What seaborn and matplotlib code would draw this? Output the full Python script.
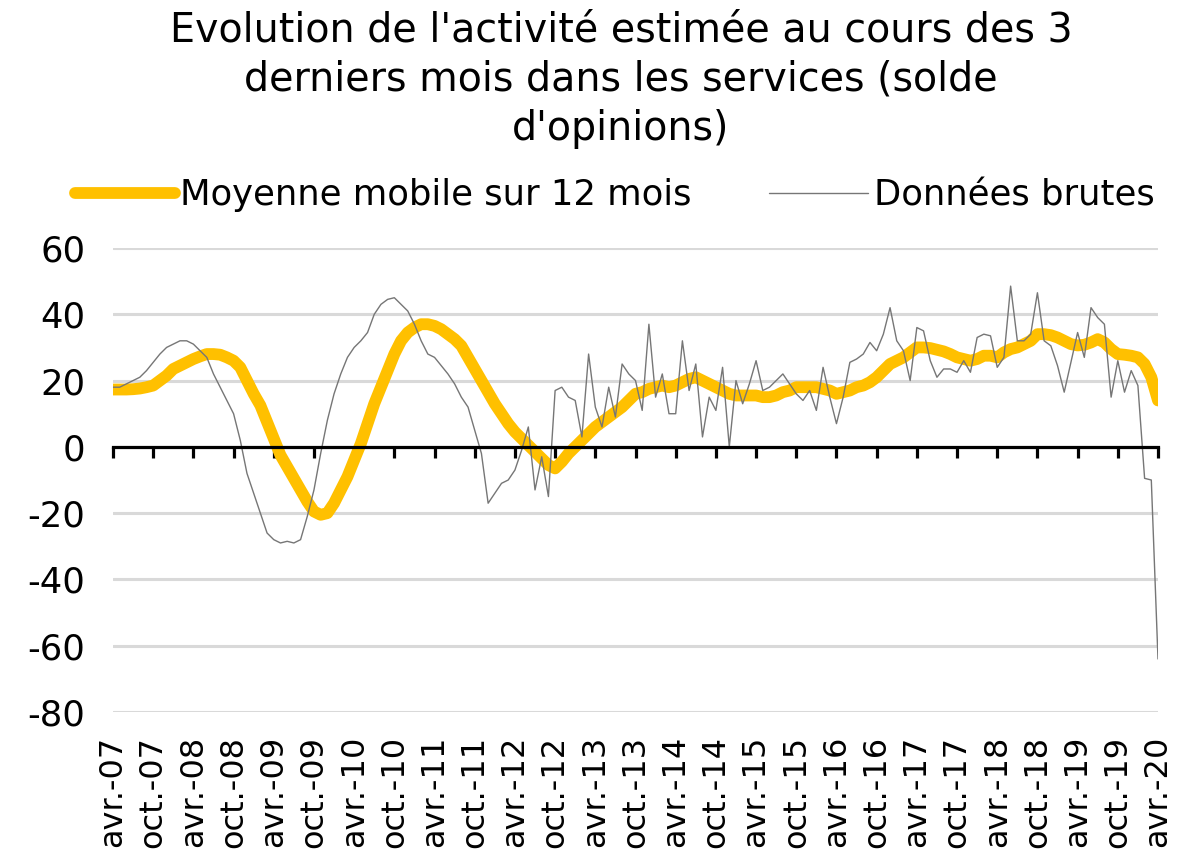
########## Import #########
import matplotlib
matplotlib.use("Agg")
import matplotlib.pyplot as plt
import seaborn as sns
import pandas as pd

############## Data ###########

# x tick labels, one every 6 months (avr. 2007 -> avr. 2020)
tick_labels = ["avr.-07", "oct.-07", "avr.-08", "oct.-08", "avr.-09", "oct.-09",
               "avr.-10", "oct.-10", "avr.-11", "oct.-11", "avr.-12", "oct.-12",
               "avr.-13", "oct.-13", "avr.-14", "oct.-14", "avr.-15", "oct.-15",
               "avr.-16", "oct.-16", "avr.-17", "oct.-17", "avr.-18", "oct.-18",
               "avr.-19", "oct.-19", "avr.-20"]

# Raw balance of opinions, monthly from avr. 2007
donnees_brutes = [
    18, 18, 19, 20, 21, 23, 25.5, 28, 30, 31, 32, 32,
    31, 29, 27, 22, 18, 14, 10, 2, -8, -14, -20, -26,
    -28, -29, -28.5, -29, -28, -21, -13, -2, 8, 16, 22, 27,
    30, 32, 34.5, 40, 43, 44.5, 45, 43, 41, 37, 32, 28,
    27, 24.5, 22, 19, 15, 12, 5, -2, -17, -14, -11, -10,
    -7, -1, 6, -13, -3, -15, 17, 18, 15, 14, 3, 28,
    12, 6, 18, 9, 25, 22, 20, 11, 37, 15, 22, 10,
    10, 32, 17, 25, 3, 15, 11, 24, 0, 20, 13, 19,
    26, 17, 18, 20, 22, 19, 16, 14, 17, 11, 24, 15,
    7, 15, 25.5, 26.5, 28, 31.5, 29, 34, 42, 32, 29, 20,
    36, 35, 26, 21, 23.5, 23.5, 22.5, 26, 22.5, 33, 34, 33.5,
    24, 27, 48.5, 32, 32, 34, 46.5, 32, 30.5, 24.5, 16.5, 25.5,
    34.5, 27, 42, 39, 37, 15, 26, 16.5, 23, 18.5, -9.5, -10,
    -64,
]

# 12-month moving average
moyenne_mobile = [
    17.3, 17.3, 17.3, 17.4, 17.6, 18, 18.5, 20, 21.5, 23.5, 24.5, 25.5,
    26.5, 27.3, 28, 28, 27.8, 27, 26, 24, 20, 16, 12.5, 7.5,
    2.5, -2.5, -6, -9.5, -13, -16.5, -19.5, -20.5, -20, -17, -13, -9,
    -4, 1, 7, 13, 18, 23, 28, 32, 34.5, 36, 37, 37,
    36.5, 35.5, 34, 32.5, 30.5, 27, 23.5, 20, 16.5, 13, 10, 7,
    4.5, 2.5, 0.5, -1.5, -3.5, -5.5, -6.5, -4.5, -2, 0, 2, 4,
    6, 7.5, 9, 10.5, 12, 14, 16, 16.5, 17.5, 18, 18.5, 18,
    18.5, 19.5, 20.5, 21, 20, 19, 18, 17, 16, 15.5, 15.5, 15.5,
    15.5, 15, 15, 15.5, 16.5, 17, 18, 18, 18, 18, 17.5, 17,
    16, 16.5, 17, 18, 18.5, 19.5, 21, 23, 25, 26, 27, 28.5,
    30, 30, 29.8, 29.3, 28.8, 28, 27, 26.5, 26, 26.5, 27.5, 27.5,
    27, 28.5, 29.5, 30, 31, 32, 34, 34, 33.7, 33, 32, 31,
    30.6, 30.8, 31.5, 32.5, 31.5, 29.5, 28, 27.8, 27.5, 27, 25, 21,
    14,
]

frame = pd.DataFrame({"mois": range(len(donnees_brutes)),
                      "brutes": donnees_brutes,
                      "mm12": moyenne_mobile})

########### Plot #########

sns.set_theme(style="white")
plt.rcParams["font.family"] = ["DejaVu Sans"]
plt.rcParams["axes.unicode_minus"] = False
plt.rcParams["text.color"] = "black"
ytick_size = 25.5
xtick_size = 23
legend_size = 25.5
title_size = 28.5

W, H = 1196, 864
fig = plt.figure(figsize=(W / 100, H / 100), dpi=100)
ax = fig.add_axes([113 / W, 1 - 712 / H, (1158 - 113) / W, (712 - 248) / H])

sns.lineplot(data=frame, x="mois", y="mm12", color="#FFC000", linewidth=8.5,
             ax=ax, label="Moyenne mobile sur 12 mois", zorder=3)
sns.lineplot(data=frame, x="mois", y="brutes", color="#767676", linewidth=1.0,
             ax=ax, label="Données brutes", zorder=4)

# y axis
ax.set_ylim(-80, 60)
ax.set_yticks(range(-80, 61, 20))
ax.yaxis.grid(True, color="#d9d9d9", linewidth=2.2)
ax.set_axisbelow(True)
ax.tick_params(axis="y", length=0, pad=20, labelsize=ytick_size, colors="black")
ax.set_ylabel("")

# x axis drawn on 0, labels at the bottom
ax.set_xlim(0, len(donnees_brutes) - 1)
for side in ["left", "right", "top"]:
    ax.spines[side].set_visible(False)
ax.spines["bottom"].set_position(("data", 0))
ax.spines["bottom"].set_linewidth(2.3)
ax.spines["bottom"].set_color("black")
ax.spines["bottom"].set_zorder(5)
tick_pos = list(range(0, len(donnees_brutes), 6))
ax.set_xticks(tick_pos)
ax.tick_params(axis="x", direction="out", length=8, width=2.3, color="black",
               bottom=True, labelbottom=False)
ax.set_xlabel("")

sec = ax.secondary_xaxis("bottom")
sec.set_xticks(tick_pos, labels=tick_labels)
sec.tick_params(axis="x", length=0, pad=17, labelsize=xtick_size,
                labelrotation=90, labelcolor="black")
sec.spines["bottom"].set_visible(False)

# legend
leg = ax.legend(loc="center", bbox_to_anchor=(615 / W, 1 - 195 / H),
                bbox_transform=fig.transFigure, ncol=2, frameon=False,
                handlelength=2.8, handletextpad=0.15, columnspacing=2.2,
                fontsize=legend_size)
for txt in leg.get_texts():
    txt.set_color("black")

# title
fig.text(621 / W, 1 - 10 / H,
         "Evolution de l'activité estimée au cours des 3\n"
         "derniers mois dans les services (solde\n"
         "d'opinions)",
         ha="center", va="top", fontsize=title_size, linespacing=1.3,
         color="black")

fig.savefig("out.png", dpi=100)
plt.close()
